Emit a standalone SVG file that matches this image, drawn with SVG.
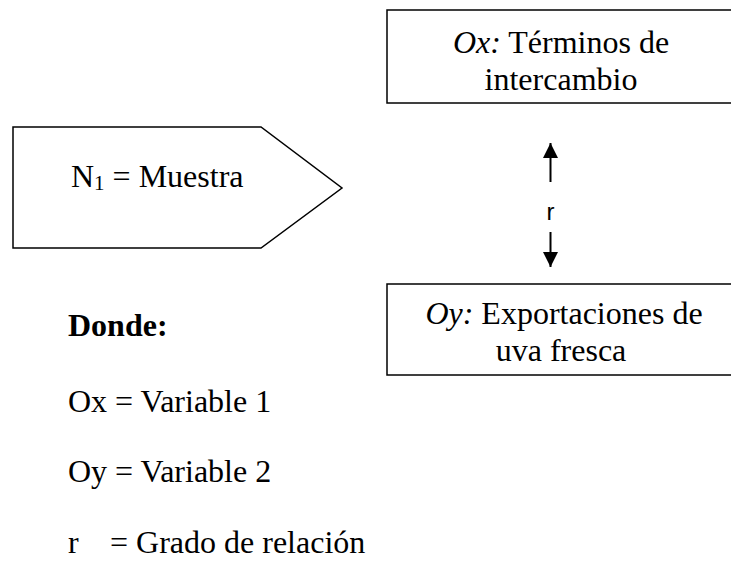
<svg xmlns="http://www.w3.org/2000/svg" width="731" height="561" viewBox="0 0 731 561">
<style>
.shape{fill:#fff;stroke:#000;stroke-width:1.5}
.t{font-family:"Liberation Serif","Times New Roman",serif;font-size:32px;fill:#000}
.c{text-anchor:middle}
.b{font-weight:bold}
.s{font-family:"Liberation Sans",Arial,sans-serif;font-size:24px;fill:#000;text-anchor:middle}
.ln{stroke:#000;stroke-width:2;fill:none}
</style>
<defs>
<marker id="ah" markerWidth="16" markerHeight="16" refX="15" refY="7.5" orient="auto" markerUnits="userSpaceOnUse" viewBox="0 0 16 15">
<path d="M0,0 L15,7.5 L0,15 Z" fill="#000"/>
</marker>
</defs>
<rect width="731" height="561" fill="#fff"/>
<g id="node-ox">
<rect class="shape" x="387" y="10" width="350" height="93"/>
<text class="t c" x="561" y="53"><tspan font-style="italic">Ox:</tspan> Términos de</text>
<text class="t c" x="561" y="90">intercambio</text>
</g>
<g id="node-oy">
<rect class="shape" x="387" y="284" width="350" height="91"/>
<text class="t c" x="564" y="324"><tspan font-style="italic">Oy:</tspan> Exportaciones de</text>
<text class="t c" x="561" y="361">uva fresca</text>
</g>
<g id="node-n1">
<polygon class="shape" points="13,127 261,127 342,188 261,248 13,248"/>
<text class="t" x="71" y="187">N<tspan font-size="21" dy="3">1</tspan><tspan dy="-3"> = Muestra</tspan></text>
</g>
<g id="connectors">
<line class="ln" x1="550.5" y1="182" x2="550.5" y2="143" marker-end="url(#ah)"/>
<line class="ln" x1="550.5" y1="232" x2="550.5" y2="267" marker-end="url(#ah)"/>
<text class="s" x="550.5" y="220">r</text>
</g>
<g id="legend">
<text class="t b" x="68" y="336">Donde:</text>
<text class="t" x="68" y="412">Ox = Variable 1</text>
<text class="t" x="68" y="482">Oy = Variable 2</text>
<text class="t" x="68" y="553">r</text>
<text class="t" x="110" y="553">= Grado de relación</text>
</g>
</svg>
